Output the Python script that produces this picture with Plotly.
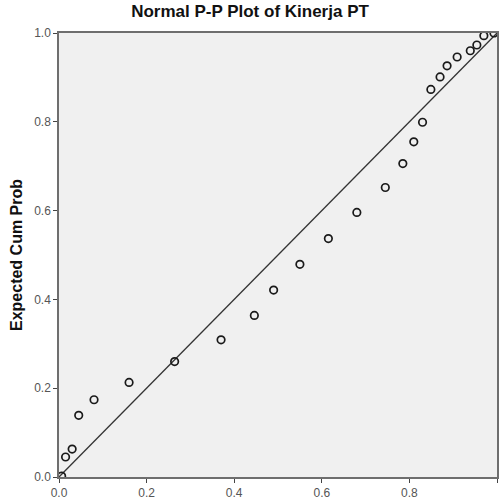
import plotly.graph_objects as go

observed_cum_prob = [0.006, 0.015, 0.030, 0.045, 0.080, 0.160, 0.264, 0.370, 0.446, 0.490,
                     0.550, 0.615, 0.680, 0.745, 0.785, 0.810, 0.830, 0.849, 0.870, 0.886,
                     0.909, 0.939, 0.954, 0.970, 0.993]
expected_cum_prob = [0.002, 0.045, 0.063, 0.139, 0.174, 0.213, 0.260, 0.309, 0.364, 0.421,
                     0.479, 0.537, 0.596, 0.652, 0.706, 0.755, 0.799, 0.873, 0.901, 0.926,
                     0.946, 0.960, 0.973, 0.994, 1.000]
ref_line_x = [0, 1]
ref_line_y = [0, 1]
tick_vals = [0.0, 0.2, 0.4, 0.6, 0.8, 1.0]
tick_text = ["0.0", "0.2", "0.4", "0.6", "0.8", "1.0"]

fig = go.Figure()
fig.add_trace(go.Scatter(x=ref_line_x, y=ref_line_y, mode="lines",
                         line=dict(color="#333333", width=1.3), hoverinfo="skip"))
fig.add_trace(go.Scatter(x=observed_cum_prob, y=expected_cum_prob, mode="markers",
                         marker=dict(symbol="circle-open", size=7.5, color="#1a1a1a",
                                     line=dict(width=1.7, color="#1a1a1a"))))

axis_common = dict(range=[0, 1], tickvals=tick_vals, ticktext=tick_text,
                   showgrid=False, zeroline=False, showline=True, mirror=True,
                   linecolor="#6e6e6e", linewidth=1.5, ticks="outside", ticklen=4,
                   tickcolor="#444444", tickwidth=1.2,
                   tickfont=dict(family="Liberation Sans, Arial", size=12, color="#555555"))

fig.update_layout(
    width=500, height=502,
    margin=dict(l=59, r=1, t=33, b=25),
    paper_bgcolor="white", plot_bgcolor="#f0f0f0",
    showlegend=False,
    title=dict(text="<b>Normal P-P Plot of Kinerja PT</b>", x=0.5, xref="container", xanchor="center",
               y=0.978, yanchor="middle",
               font=dict(family="Liberation Sans, Arial", size=17, color="#111111")),
    xaxis=dict(**axis_common),
    yaxis=dict(**axis_common,
               title=dict(text="<b>Expected Cum Prob</b>", standoff=8,
                          font=dict(family="Liberation Sans, Arial", size=16, color="#111111"))),
)

fig.write_html("out.html")
